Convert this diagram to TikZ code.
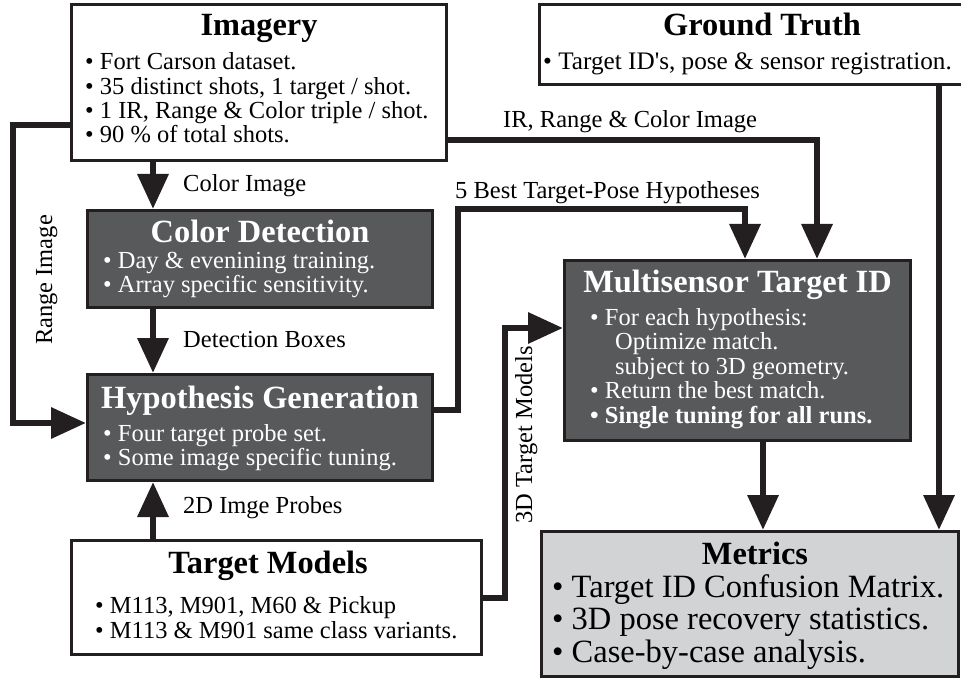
\documentclass[tikz,border=0pt]{standalone}
\usepackage{fontspec}
\setmainfont{Liberation Serif}[Ligatures=TeXOff]
\usetikzlibrary{arrows.meta}

\definecolor{linec}{RGB}{35,31,32}
\definecolor{darkg}{RGB}{88,89,91}
\definecolor{lightg}{RGB}{209,211,212}

% title and body type sizes
\newcommand\mytitle{\fontsize{32.4}{32}\bfseries\selectfont}
\newcommand\mybody[1][23.5]{\fontsize{24.5}{#1}\selectfont}

\tikzset{
  box/.style={draw=linec, line width=3pt, inner sep=0pt},
  whitebox/.style={box, fill=white},
  darkbox/.style={box, fill=darkg},
  lightbox/.style={box, fill=lightg},
  titletext/.style={font=\mytitle, anchor=base, inner sep=0pt},
  bodytext/.style={anchor=base west, inner sep=0pt},
  lbl/.style={font=\mybody, anchor=base west, inner sep=0pt},
  vlbl/.style={font=\mybody, anchor=base, rotate=90, inner sep=0pt},
  flow/.style={draw=linec, line width=6.5pt, line join=miter,
    -{Triangle[width=30pt,length=35pt]}},
}

\begin{document}
\begin{tikzpicture}[x=1pt,y=-1pt]
\clip (0,0) rectangle (961,679);

% boxes
\node[whitebox, minimum width=375pt, minimum height=156pt] (img) at (259,82.5) {};
\node[whitebox, minimum width=445pt, minimum height=80pt] (gt) at (762,44.5) {};
\node[darkbox, minimum width=345pt, minimum height=97pt] (cd) at (260,259) {};
\node[darkbox, minimum width=345pt, minimum height=106pt] (hg) at (260,427.5) {};
\node[whitebox, minimum width=410pt, minimum height=114pt] (tm) at (276.5,597.5) {};
\node[darkbox, minimum width=346pt, minimum height=180pt] (ms) at (737.5,350.5) {};
\node[lightbox, minimum width=417pt, minimum height=145pt] (mt) at (750,604) {};

% box texts
\node[titletext] (imgT) at (259,36) {Imagery};
\node[bodytext] (imgB) at (85,70) {\mybody[23.6]\begin{tabular}[t]{@{}l@{}}
• Fort Carson dataset.\\
• 35 distinct shots, 1 target / shot.\\
• 1 IR, Range \& Color triple / shot.\\
• 90 \% of total shots.
\end{tabular}};

\node[titletext] (gtT) at (762,36) {Ground Truth};
\node[bodytext] (gtB) at (543,70) {\fontsize{25.2}{24}\selectfont • Target ID's, pose \& sensor registration.};

\node[titletext, text=white] (cdT) at (260,243) {Color Detection};
\node[bodytext, text=white] (cdB) at (103,268) {\mybody[23.8]\begin{tabular}[t]{@{}l@{}}
• Day \& evenining training.\\
• Array specific sensitivity.
\end{tabular}};

\node[titletext, text=white] (hgT) at (260,408) {Hypothesis Generation};
\node[bodytext, text=white] (hgB) at (103,441) {\mybody[24]\begin{tabular}[t]{@{}l@{}}
• Four target probe set.\\
• Some image specific tuning.
\end{tabular}};

\node[titletext] (tmT) at (268,573) {Target Models};
\node[bodytext] (tmB) at (95,613) {\mybody[25]\begin{tabular}[t]{@{}l@{}}
• M113, M901, M60 \& Pickup\\
• M113 \& M901 same class variants.
\end{tabular}};

\node[titletext, text=white] (msT) at (737.5,292) {Multisensor Target ID};
\node[bodytext, text=white] (msB) at (590,325) {\mybody[24.6]\begin{tabular}[t]{@{}l@{}}
• For each hypothesis:\\
\hspace*{25pt}Optimize match.\\
\hspace*{25pt}subject to 3D geometry.\\
• Return the best match.\\
\textbf{• Single tuning for all runs.}
\end{tabular}};

\node[titletext] (mtT) at (755,564) {Metrics};
\node[bodytext] (mtB) at (552,597) {\fontsize{32.5}{32.5}\selectfont\begin{tabular}[t]{@{}l@{}}
• Target ID Confusion Matrix.\\
• 3D pose recovery statistics.\\
• Case-by-case analysis.
\end{tabular}};

% routing coordinates
\coordinate (xa) at (153,0);
\coordinate (xr) at (13,0);
\coordinate (yr1) at (0,125);
\coordinate (yr2) at (0,423);
\coordinate (xh) at (458,0);
\coordinate (yh1) at (0,410);
\coordinate (yh2) at (0,209);
\coordinate (xh2) at (745,0);
\coordinate (yi) at (0,140);
\coordinate (xi) at (817,0);
\coordinate (x3) at (505,0);
\coordinate (y31) at (0,598);
\coordinate (y32) at (0,328);
\coordinate (xg) at (939,0);
\coordinate (xm) at (763,0);

% connectors
\draw[flow] (img.south -| xa) -- (cd.north -| xa);
\draw[flow] (cd.south -| xa) -- (hg.north -| xa);
\draw[flow] (tm.north -| xa) -- (hg.south -| xa);
\draw[flow] (img.west |- yr1) -- (xr |- yr1) -- (xr |- yr2) -- (hg.west |- yr2);
\draw[flow] (hg.east |- yh1) -- (xh |- yh1) -- (xh |- yh2) -- (xh2 |- yh2) -- (ms.north -| xh2);
\draw[flow] (img.east |- yi) -- (xi |- yi) -- (ms.north -| xi);
\draw[flow] (tm.east |- y31) -- (x3 |- y31) -- (x3 |- y32) -- (ms.west |- y32);
\draw[flow] (gt.south -| xg) -- (mt.north -| xg);
\draw[flow] (ms.south -| xm) -- (mt.north -| xm);

% connector labels
\node[lbl] (lColor) at (183,192) {Color Image};
\node[lbl] (lDet) at (183,347) {Detection Boxes};
\node[lbl] (lProbe) at (183,513) {2D Imge Probes};
\node[lbl] (lIR) at (503,128) {IR, Range \& Color Image};
\node[lbl] (lBest) at (455,199) {5 Best Target-Pose Hypotheses};
\node[vlbl] (lRange) at (52,280) {Range Image};
\node[vlbl] (l3D) at (532,435) {3D Target Models};
\end{tikzpicture}
\end{document}
